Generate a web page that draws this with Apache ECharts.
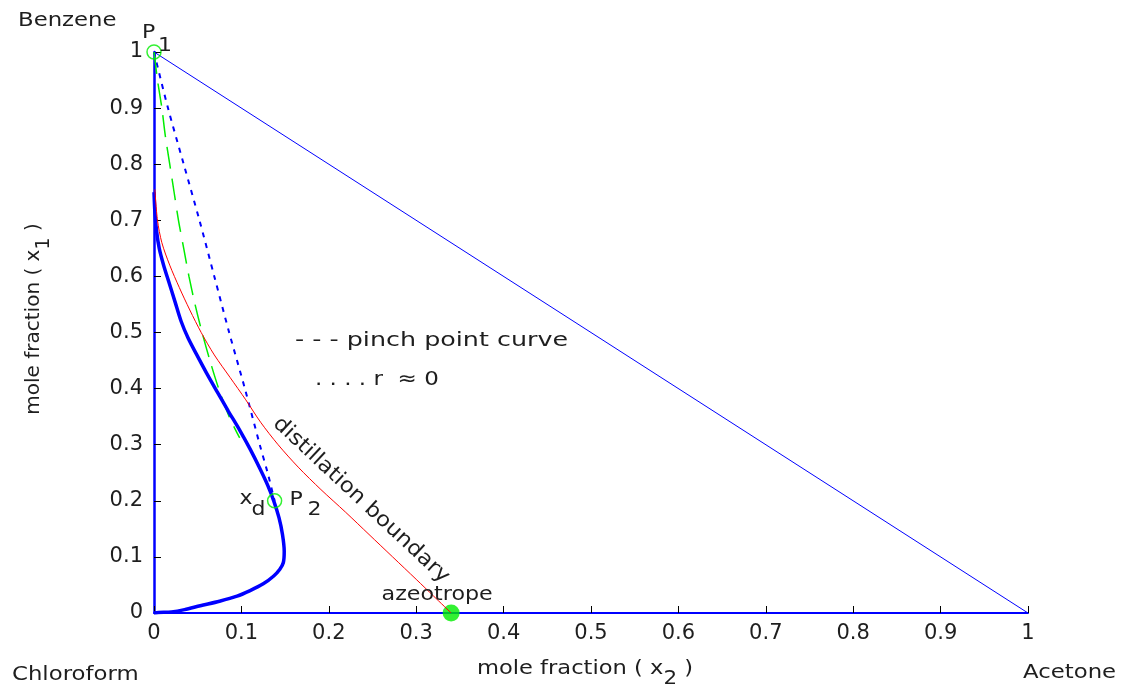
<!DOCTYPE html>
<html>
<head>
<meta charset="utf-8">
<title>Chloroform – Acetone – Benzene distillation diagram</title>
<script src="https://cdn.jsdelivr.net/npm/echarts@6/dist/echarts.min.js"></script>
<style>
  html, body { margin: 0; padding: 0; background: #ffffff; }
  #chart { width: 1125px; height: 690px; }
</style>
</head>
<body>
<div id="chart"></div>
<script>
// ---- tick labels ----
const xTickLabels = ['0', '0.1', '0.2', '0.3', '0.4', '0.5', '0.6', '0.7', '0.8', '0.9', '1'];
const yTickLabels = ['0', '0.1', '0.2', '0.3', '0.4', '0.5', '0.6', '0.7', '0.8', '0.9', '1'];

// ---- compositions: [x2 (acetone), x1 (benzene)] ----
// Benzene–Acetone edge of the triangle
const edgeBenzeneAcetone = [[0, 1], [1, 0]];

// composition profile (thick blue)
const profileCurve = [
  [0.000, 0.750], [0.001, 0.715], [0.003, 0.680], [0.006, 0.650], [0.011, 0.620],
  [0.017, 0.590], [0.024, 0.555], [0.031, 0.520], [0.039, 0.490], [0.049, 0.460],
  [0.060, 0.428], [0.072, 0.395], [0.085, 0.360], [0.098, 0.326], [0.110, 0.292],
  [0.121, 0.258], [0.130, 0.228], [0.137, 0.200], [0.143, 0.170], [0.147, 0.140],
  [0.149, 0.110], [0.148, 0.090], [0.144, 0.078], [0.137, 0.066], [0.125, 0.052],
  [0.110, 0.040], [0.095, 0.030], [0.075, 0.021], [0.053, 0.013], [0.035, 0.006],
  [0.020, 0.002], [0.005, 0.001], [0.000, 0.000]
];

// distillation boundary (red)
const boundaryCurve = [
  [0.001, 0.755], [0.004, 0.700], [0.009, 0.660], [0.018, 0.620], [0.029, 0.580],
  [0.041, 0.540], [0.054, 0.500], [0.069, 0.460], [0.087, 0.420], [0.105, 0.380],
  [0.122, 0.340], [0.142, 0.300], [0.165, 0.260], [0.191, 0.220], [0.219, 0.180],
  [0.246, 0.140], [0.273, 0.100], [0.300, 0.060], [0.320, 0.030], [0.340, 0.000]
];

// pinch point curve (green dashed)
const pinchCurve = [
  [0.000, 1.000], [0.004, 0.950], [0.009, 0.900], [0.013, 0.850], [0.018, 0.800],
  [0.023, 0.750], [0.028, 0.700], [0.034, 0.650], [0.040, 0.600], [0.047, 0.550],
  [0.055, 0.500], [0.064, 0.450], [0.074, 0.400], [0.086, 0.350], [0.098, 0.312]
];

// r ≈ 0 curve (blue dotted)
const rZeroCurve = [
  [0.000, 1.000], [0.016, 0.900], [0.034, 0.800], [0.052, 0.700], [0.069, 0.600],
  [0.086, 0.500], [0.104, 0.400], [0.121, 0.300], [0.130, 0.250], [0.138, 0.200]
];

// special points
const pointP1 = [0, 1];
const pointP2 = [0.138, 0.2];
const pointAzeotrope = [0.34, 0];

// ---- styling ----
const FONT = 'DejaVu Sans';
const TEXT = '#1e1e1e';
const BLUE = '#0000ff';
const RED = '#ff0000';
const GREEN = '#00ee00';

const chart = echarts.init(document.getElementById('chart'), null, { renderer: 'canvas' });

const tickFmt = labels => v => labels[Math.round(v * 10)] ?? '';

chart.setOption({
  animation: false,
  backgroundColor: '#ffffff',
  grid: { left: 154, right: 97, top: 52, bottom: 77, containLabel: false },
  xAxis: {
    type: 'value', min: 0, max: 1, interval: 0.1,
    splitLine: { show: false },
    axisLine: { show: true, onZero: false, lineStyle: { color: BLUE, width: 2 } },
    axisTick: { show: true, inside: true, length: 7, lineStyle: { color: '#000', width: 1 } },
    axisLabel: { formatter: tickFmt(xTickLabels), margin: 10, color: TEXT, fontSize: 21, fontFamily: FONT }
  },
  yAxis: {
    type: 'value', min: 0, max: 1, interval: 0.1,
    splitLine: { show: false },
    axisLine: { show: true, onZero: false, lineStyle: { color: BLUE, width: 2.5 } },
    axisTick: { show: true, inside: true, length: 7, lineStyle: { color: '#000', width: 1 } },
    axisLabel: { formatter: tickFmt(yTickLabels), margin: 11, color: TEXT, fontSize: 21, fontFamily: FONT }
  },
  series: [
    { type: 'line', data: edgeBenzeneAcetone, showSymbol: false, lineStyle: { color: BLUE, width: 1 }, z: 2 },
    { type: 'line', data: rZeroCurve, showSymbol: false, smooth: 0.3,
      lineStyle: { color: BLUE, width: 2, type: [5, 6] }, z: 3 },
    { type: 'line', data: pinchCurve, showSymbol: false, smooth: 0.3,
      lineStyle: { color: GREEN, width: 1.5, type: [22, 10] }, z: 3 },
    { type: 'line', data: profileCurve, showSymbol: false, smooth: 0.3,
      lineStyle: { color: BLUE, width: 3.5 }, z: 4 },
    { type: 'scatter', data: [pointAzeotrope], symbol: 'circle', symbolSize: 17,
      itemStyle: { color: GREEN }, z: 5 },
    { type: 'line', data: boundaryCurve, showSymbol: false, smooth: 0.3,
      lineStyle: { color: RED, width: 1 }, z: 6 },
    { type: 'scatter', data: [pointP1, pointP2], symbol: 'circle', symbolSize: 14,
      itemStyle: { color: 'rgba(0,0,0,0)', borderColor: GREEN, borderWidth: 1.5 }, z: 7 }
  ]
});

// ---- text annotations, placed relative to the data points they describe ----
const px = p => chart.convertToPixel({ gridIndex: 0 }, p);
// the lettering is drawn slightly widened (scaleX) to get the broad face of the labels
const txt = (x, y, text, opts = {}) => ({
  type: 'text', x, y, rotation: opts.rotation || 0, z: 20,
  scaleX: opts.sx || 1.15,
  style: {
    text, fill: TEXT, font: (opts.size || 20) + 'px "' + FONT + '"',
    align: opts.align || 'left', verticalAlign: 'middle',
    rich: opts.rich
  }
});

const p1 = px(pointP1);
const p2 = px(pointP2);
const az = px(pointAzeotrope);
const boundaryLabelAt = px([0.237, 0.201]);

const subRich = {
  t: { fontSize: 20, fontFamily: FONT, lineHeight: 40, verticalAlign: 'middle', fill: TEXT },
  s: { fontSize: 19, fontFamily: FONT, lineHeight: 14, verticalAlign: 'bottom', fill: TEXT }
};

chart.setOption({
  graphic: [
    txt(18, 21.5, 'Benzene', { size: 19, sx: 1.2 }),
    txt(12, 675.5, 'Chloroform', { size: 19, sx: 1.2 }),
    txt(1023, 673, 'Acetone', { size: 19, sx: 1.2 }),
    txt(585, 668.5, '{t|mole fraction ( x}{s|2}{t| )}', { align: 'center', rich: subRich, sx: 1.13 }),
    txt(34, 319, '{t|mole fraction ( x}{s|1}{t| )}', { align: 'center', rotation: Math.PI / 2, rich: subRich, sx: 1.0 }),
    txt(295, 341, '- - - pinch point curve', { sx: 1.27 }),
    txt(315, 380, '. . . . r  \u2248 0', { sx: 1.15 }),
    // point labels
    txt(p1[0] - 12, p1[1] - 19, 'P', { size: 20, sx: 1.1 }),
    txt(p1[0] + 4, p1[1] - 6, '1', { size: 20, sx: 1.1 }),
    txt(p2[0] + 15, p2[1] - 1, 'P', { size: 20, sx: 1.1 }),
    txt(p2[0] + 33, p2[1] + 9, '2', { size: 20, sx: 1.1 }),
    txt(p2[0] - 35, p2[1] - 2, 'x', { size: 20, sx: 1.1 }),
    txt(p2[0] - 23, p2[1] + 9, 'd', { size: 20, sx: 1.1 }),
    txt(az[0] - 14, az[1] - 18, 'azeotrope', { align: 'center', sx: 1.11 }),
    txt(boundaryLabelAt[0], boundaryLabelAt[1], 'distillation boundary',
        { align: 'center', rotation: -43 * Math.PI / 180, size: 21, sx: 1.08 })
  ]
});
</script>
</body>
</html>
